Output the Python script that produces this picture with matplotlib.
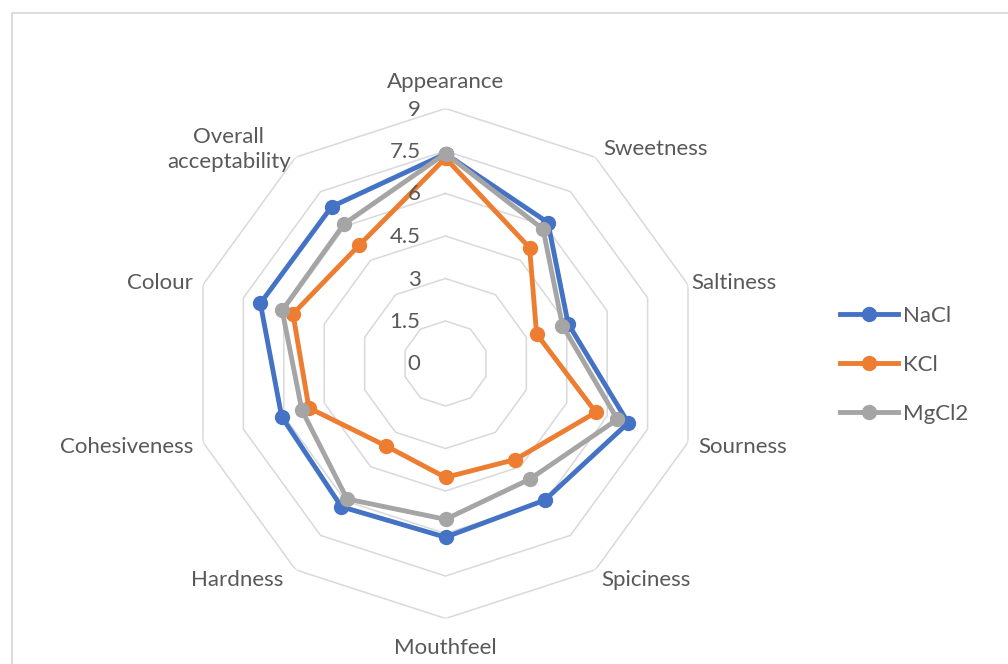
import numpy as np
import matplotlib
matplotlib.use("Agg")
import matplotlib.pyplot as plt
from matplotlib.patches import Rectangle

categories = ["Appearance", "Sweetness", "Saltiness", "Sourness", "Spiciness",
              "Mouthfeel", "Hardness", "Cohesiveness", "Colour", "Overall\nacceptability"]
nacl = [7.40, 6.15, 4.55, 6.78, 5.96, 6.13, 6.25, 6.08, 6.87, 6.84]
kcl = [7.25, 5.05, 3.38, 5.58, 4.19, 4.02, 3.59, 5.07, 5.66, 5.17]
mgcl2 = [7.41, 5.86, 4.34, 6.38, 5.05, 5.50, 5.91, 5.33, 6.06, 6.09]
series_names = ["NaCl", "KCl", "MgCl2"]
r_ticks = [0, 1.5, 3, 4.5, 6, 7.5, 9]
r_tick_labels = ["0", "1.5", "3", "4.5", "6", "7.5", "9"]

colors = ["#4472C4", "#ED7D31", "#A5A5A5"]
text_color = "#595959"
grid_color = "#D9D9D9"
plt.rcParams['font.family'] = ['Lato', 'DejaVu Sans']
fs = 16

W, H = 1008, 664
fig = plt.figure(figsize=(W / 100, H / 100), dpi=100)
fig.patch.set_facecolor("white")
# chart border
fig.patches.append(Rectangle((12 / W, -0.1), 1.2, 1 - 13 / H + 0.1, transform=fig.transFigure,
                             fill=False, edgecolor=grid_color, linewidth=1.3))

cx, cy, R = 445.5, 363.5, 255.0
ax = fig.add_axes([(cx - R) / W, (H - cy - R) / H, 2 * R / W, 2 * R / H], projection='polar')
ax.set_theta_zero_location('N')
ax.set_theta_direction(-1)
ax.set_ylim(0, 9)
ax.grid(False)
ax.spines['polar'].set_visible(False)
ax.set_xticks([])
ax.set_yticks([])
ax.patch.set_alpha(0)

n = len(categories)
angles = np.arange(n) * 2 * np.pi / n
ang_closed = np.append(angles, angles[0])

for r in r_ticks[1:]:
    ax.plot(ang_closed, [r] * (n + 1), color=grid_color, lw=1.1, zorder=1)

for r, lab in zip(r_ticks, r_tick_labels):
    ax.annotate(lab, xy=(0, r), xytext=(-25, -1), textcoords='offset pixels',
                ha='right', va='center', fontsize=fs, color=text_color, zorder=5)

# category labels: (dx, dy, ha) pixel offsets from outer vertex
label_pos = [(0, 26, 'center'), (8, 8, 'left'), (3, 2, 'left'), (10, -5, 'left'),
             (6, -10, 'left'), (0, -29, 'center'), (-12, -10, 'right'), (-10, -5, 'right'),
             (-10, 2, 'right'), (-5, 8, 'right')]
for a, lab, (dx, dy, ha) in zip(angles, categories, label_pos):
    ax.annotate(lab, xy=(a, 9), xytext=(dx, dy), textcoords='offset pixels',
                ha=ha, va='center', fontsize=fs, color=text_color,
                multialignment='center', annotation_clip=False, linespacing=1.3)

handles = []
for vals, c, name in zip([nacl, kcl, mgcl2], colors, series_names):
    v = np.append(vals, vals[0])
    h, = ax.plot(ang_closed, v, color=c, lw=3.5, marker='o', markersize=10,
                 label=name, zorder=3, solid_joinstyle='round')
    handles.append(h)

fig.legend(handles=handles, labels=series_names, loc='upper left',
           bbox_to_anchor=(840 / W, 1 - 306 / H), frameon=False, fontsize=fs,
           labelcolor=text_color, handlelength=2.6, handletextpad=0.25,
           labelspacing=1.3, borderpad=0, borderaxespad=0)

fig.savefig("out.png", dpi=100, facecolor="white")
